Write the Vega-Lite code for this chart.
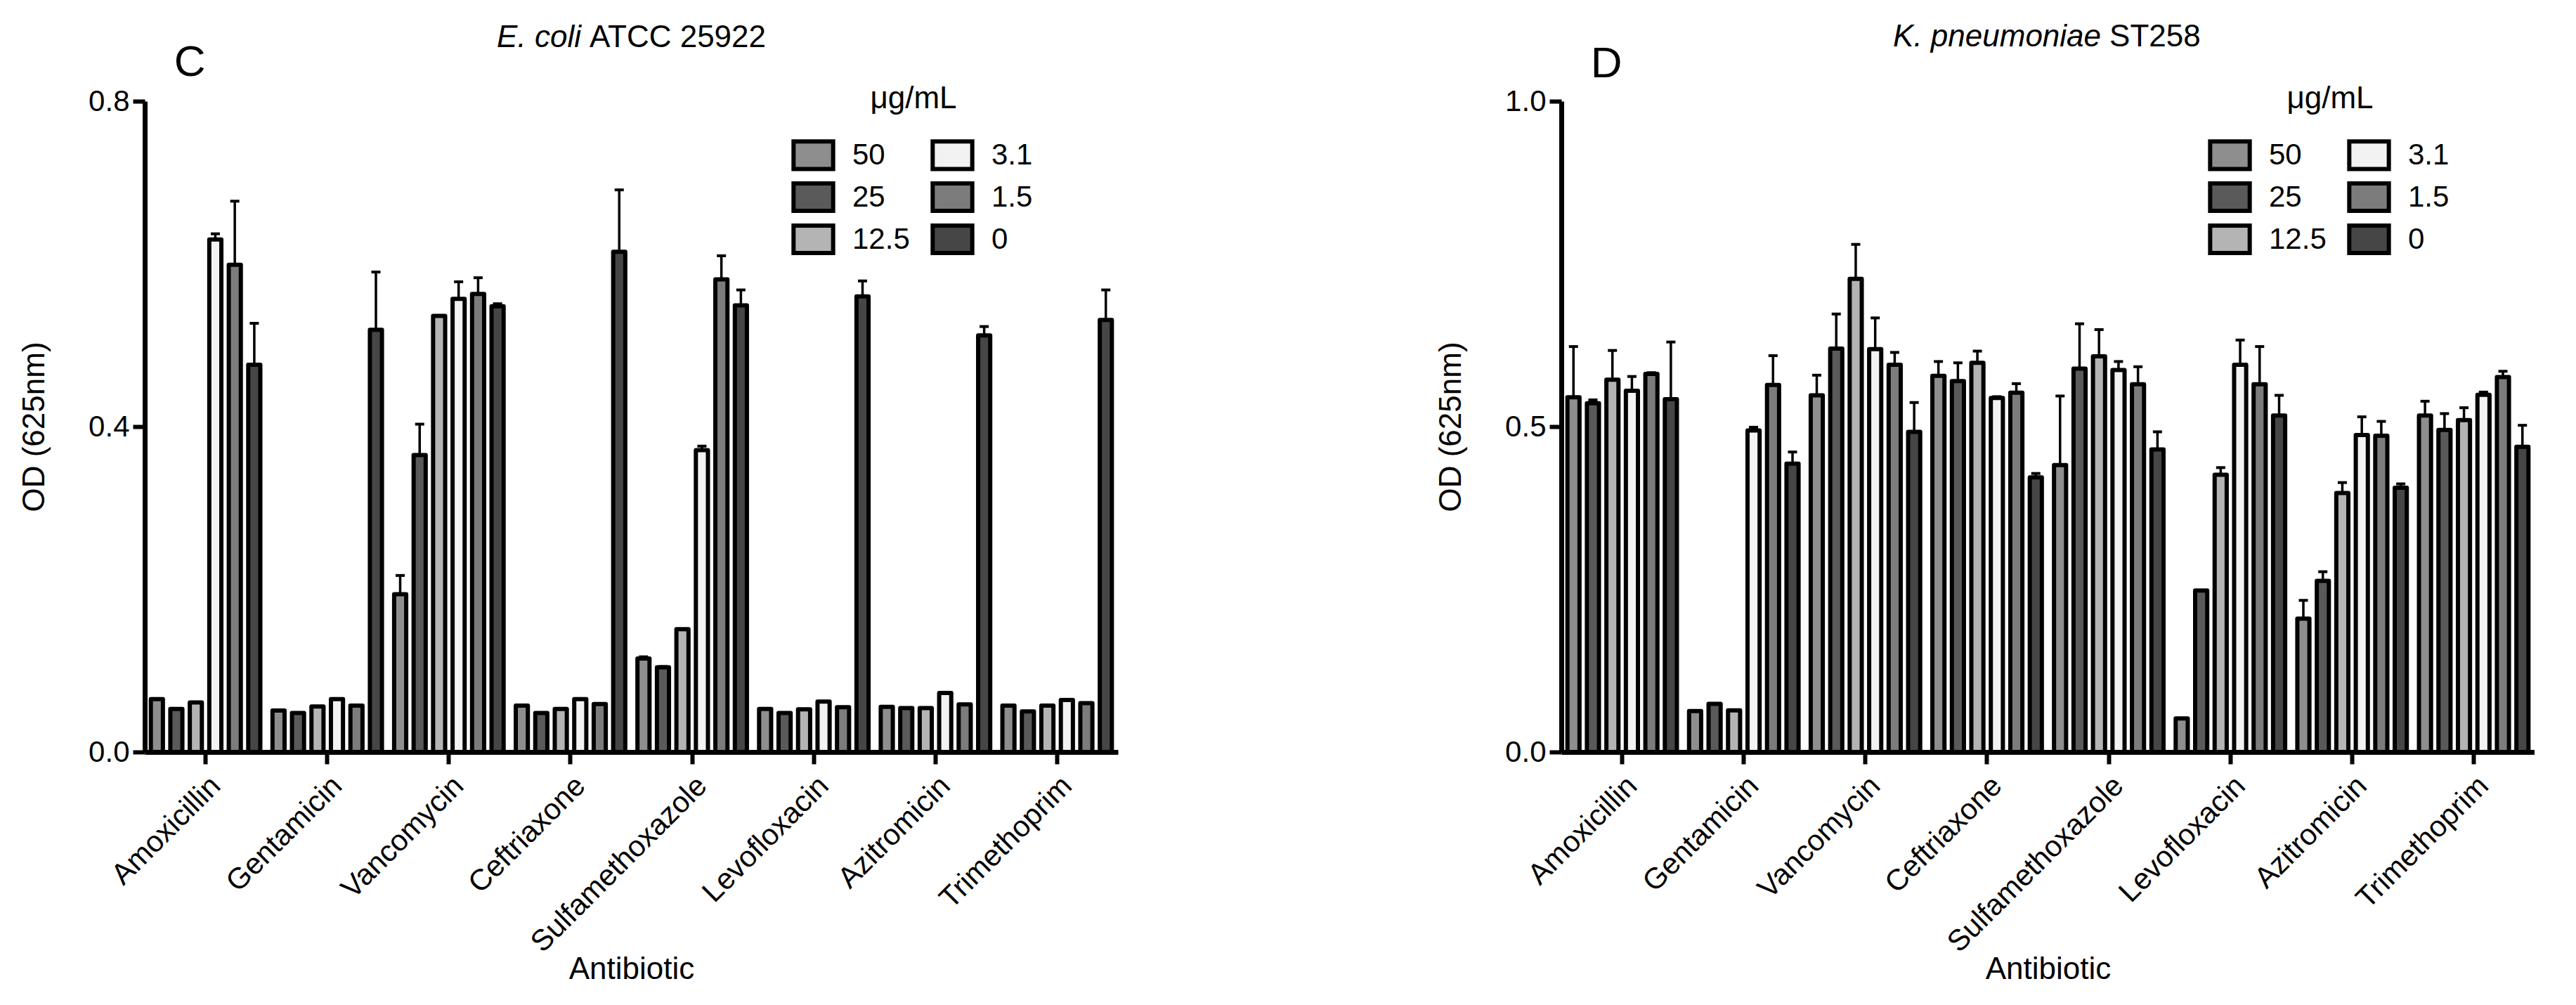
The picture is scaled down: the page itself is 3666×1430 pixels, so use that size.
{
  "$schema": "https://vega.github.io/schema/vega-lite/v6.json",
  "background": "white",
  "padding": {"left": 27, "top": 31, "right": 0, "bottom": 0},
  "config": {
    "font": "Liberation Sans",
    "view": {"stroke": null},
    "axis": {"grid": false, "domainColor": "black", "tickColor": "black", "labelColor": "black", "titleColor": "black", "domainWidth": 7, "tickWidth": 6, "tickSize": 17, "labelFontSize": 42, "titleFontSize": 44, "titleFontWeight": "normal", "labelLimit": 0},
    "axisY": {"labelPadding": 5, "titlePadding": 54},
    "axisX": {"labelAngle": -45, "labelPadding": 10, "titlePadding": 87},
    "legend": {"orient": "none", "legendX": 924, "legendY": -25, "columns": 2, "symbolType": "M-1.15,-0.8L1.15,-0.8L1.15,0.8L-1.15,0.8Z", "symbolSize": 2401, "symbolStrokeColor": "black", "symbolStrokeWidth": 6, "symbolOpacity": 1, "labelFontSize": 42, "labelColor": "black", "labelOffset": 28, "titleFontSize": 44, "titleFontWeight": "normal", "titleColor": "black", "titleAnchor": "middle", "titlePadding": 30, "rowPadding": -8, "columnPadding": 20, "padding": 0}
  },
  "datasets": {
    "ecoli": [
      {"antibiotic": "Amoxicillin", "conc": "50", "od": 0.065, "err": 0.065},
      {"antibiotic": "Amoxicillin", "conc": "25", "od": 0.053, "err": 0.053},
      {"antibiotic": "Amoxicillin", "conc": "12.5", "od": 0.061, "err": 0.061},
      {"antibiotic": "Amoxicillin", "conc": "3.1", "od": 0.630, "err": 0.637},
      {"antibiotic": "Amoxicillin", "conc": "1.5", "od": 0.599, "err": 0.677},
      {"antibiotic": "Amoxicillin", "conc": "0", "od": 0.476, "err": 0.527},
      {"antibiotic": "Gentamicin", "conc": "50", "od": 0.051, "err": 0.051},
      {"antibiotic": "Gentamicin", "conc": "25", "od": 0.048, "err": 0.048},
      {"antibiotic": "Gentamicin", "conc": "12.5", "od": 0.056, "err": 0.056},
      {"antibiotic": "Gentamicin", "conc": "3.1", "od": 0.065, "err": 0.065},
      {"antibiotic": "Gentamicin", "conc": "1.5", "od": 0.057, "err": 0.057},
      {"antibiotic": "Gentamicin", "conc": "0", "od": 0.519, "err": 0.590},
      {"antibiotic": "Vancomycin", "conc": "50", "od": 0.194, "err": 0.217},
      {"antibiotic": "Vancomycin", "conc": "25", "od": 0.365, "err": 0.403},
      {"antibiotic": "Vancomycin", "conc": "12.5", "od": 0.536, "err": 0.536},
      {"antibiotic": "Vancomycin", "conc": "3.1", "od": 0.557, "err": 0.578},
      {"antibiotic": "Vancomycin", "conc": "1.5", "od": 0.563, "err": 0.583},
      {"antibiotic": "Vancomycin", "conc": "0", "od": 0.548, "err": 0.551},
      {"antibiotic": "Ceftriaxone", "conc": "50", "od": 0.057, "err": 0.057},
      {"antibiotic": "Ceftriaxone", "conc": "25", "od": 0.048, "err": 0.048},
      {"antibiotic": "Ceftriaxone", "conc": "12.5", "od": 0.053, "err": 0.053},
      {"antibiotic": "Ceftriaxone", "conc": "3.1", "od": 0.065, "err": 0.065},
      {"antibiotic": "Ceftriaxone", "conc": "1.5", "od": 0.059, "err": 0.059},
      {"antibiotic": "Ceftriaxone", "conc": "0", "od": 0.615, "err": 0.691},
      {"antibiotic": "Sulfamethoxazole", "conc": "50", "od": 0.115, "err": 0.117},
      {"antibiotic": "Sulfamethoxazole", "conc": "25", "od": 0.104, "err": 0.105},
      {"antibiotic": "Sulfamethoxazole", "conc": "12.5", "od": 0.151, "err": 0.151},
      {"antibiotic": "Sulfamethoxazole", "conc": "3.1", "od": 0.371, "err": 0.376},
      {"antibiotic": "Sulfamethoxazole", "conc": "1.5", "od": 0.581, "err": 0.610},
      {"antibiotic": "Sulfamethoxazole", "conc": "0", "od": 0.549, "err": 0.568},
      {"antibiotic": "Levofloxacin", "conc": "50", "od": 0.053, "err": 0.053},
      {"antibiotic": "Levofloxacin", "conc": "25", "od": 0.048, "err": 0.048},
      {"antibiotic": "Levofloxacin", "conc": "12.5", "od": 0.0525, "err": 0.0525},
      {"antibiotic": "Levofloxacin", "conc": "3.1", "od": 0.062, "err": 0.062},
      {"antibiotic": "Levofloxacin", "conc": "1.5", "od": 0.055, "err": 0.055},
      {"antibiotic": "Levofloxacin", "conc": "0", "od": 0.560, "err": 0.579},
      {"antibiotic": "Azitromicin", "conc": "50", "od": 0.0555, "err": 0.0555},
      {"antibiotic": "Azitromicin", "conc": "25", "od": 0.054, "err": 0.054},
      {"antibiotic": "Azitromicin", "conc": "12.5", "od": 0.054, "err": 0.054},
      {"antibiotic": "Azitromicin", "conc": "3.1", "od": 0.0725, "err": 0.0725},
      {"antibiotic": "Azitromicin", "conc": "1.5", "od": 0.0586, "err": 0.0586},
      {"antibiotic": "Azitromicin", "conc": "0", "od": 0.512, "err": 0.523},
      {"antibiotic": "Trimethoprim", "conc": "50", "od": 0.057, "err": 0.057},
      {"antibiotic": "Trimethoprim", "conc": "25", "od": 0.050, "err": 0.050},
      {"antibiotic": "Trimethoprim", "conc": "12.5", "od": 0.057, "err": 0.057},
      {"antibiotic": "Trimethoprim", "conc": "3.1", "od": 0.064, "err": 0.064},
      {"antibiotic": "Trimethoprim", "conc": "1.5", "od": 0.060, "err": 0.060},
      {"antibiotic": "Trimethoprim", "conc": "0", "od": 0.531, "err": 0.568}
    ],
    "kpn": [
      {"antibiotic": "Amoxicillin", "conc": "50", "od": 0.545, "err": 0.623},
      {"antibiotic": "Amoxicillin", "conc": "25", "od": 0.536, "err": 0.541},
      {"antibiotic": "Amoxicillin", "conc": "12.5", "od": 0.572, "err": 0.617},
      {"antibiotic": "Amoxicillin", "conc": "3.1", "od": 0.555, "err": 0.577},
      {"antibiotic": "Amoxicillin", "conc": "1.5", "od": 0.581, "err": 0.583},
      {"antibiotic": "Amoxicillin", "conc": "0", "od": 0.542, "err": 0.630},
      {"antibiotic": "Gentamicin", "conc": "50", "od": 0.063, "err": 0.063},
      {"antibiotic": "Gentamicin", "conc": "25", "od": 0.074, "err": 0.074},
      {"antibiotic": "Gentamicin", "conc": "12.5", "od": 0.064, "err": 0.064},
      {"antibiotic": "Gentamicin", "conc": "3.1", "od": 0.494, "err": 0.499},
      {"antibiotic": "Gentamicin", "conc": "1.5", "od": 0.564, "err": 0.609},
      {"antibiotic": "Gentamicin", "conc": "0", "od": 0.443, "err": 0.461},
      {"antibiotic": "Vancomycin", "conc": "50", "od": 0.548, "err": 0.579},
      {"antibiotic": "Vancomycin", "conc": "25", "od": 0.620, "err": 0.673},
      {"antibiotic": "Vancomycin", "conc": "12.5", "od": 0.727, "err": 0.780},
      {"antibiotic": "Vancomycin", "conc": "3.1", "od": 0.619, "err": 0.667},
      {"antibiotic": "Vancomycin", "conc": "1.5", "od": 0.595, "err": 0.614},
      {"antibiotic": "Vancomycin", "conc": "0", "od": 0.492, "err": 0.537},
      {"antibiotic": "Ceftriaxone", "conc": "50", "od": 0.578, "err": 0.600},
      {"antibiotic": "Ceftriaxone", "conc": "25", "od": 0.570, "err": 0.598},
      {"antibiotic": "Ceftriaxone", "conc": "12.5", "od": 0.598, "err": 0.616},
      {"antibiotic": "Ceftriaxone", "conc": "3.1", "od": 0.544, "err": 0.546},
      {"antibiotic": "Ceftriaxone", "conc": "1.5", "od": 0.552, "err": 0.566},
      {"antibiotic": "Ceftriaxone", "conc": "0", "od": 0.422, "err": 0.428},
      {"antibiotic": "Sulfamethoxazole", "conc": "50", "od": 0.441, "err": 0.547},
      {"antibiotic": "Sulfamethoxazole", "conc": "25", "od": 0.589, "err": 0.658},
      {"antibiotic": "Sulfamethoxazole", "conc": "12.5", "od": 0.608, "err": 0.649},
      {"antibiotic": "Sulfamethoxazole", "conc": "3.1", "od": 0.587, "err": 0.600},
      {"antibiotic": "Sulfamethoxazole", "conc": "1.5", "od": 0.565, "err": 0.592},
      {"antibiotic": "Sulfamethoxazole", "conc": "0", "od": 0.465, "err": 0.492},
      {"antibiotic": "Levofloxacin", "conc": "50", "od": 0.0515, "err": 0.0515},
      {"antibiotic": "Levofloxacin", "conc": "25", "od": 0.248, "err": 0.248},
      {"antibiotic": "Levofloxacin", "conc": "12.5", "od": 0.426, "err": 0.437},
      {"antibiotic": "Levofloxacin", "conc": "3.1", "od": 0.595, "err": 0.633},
      {"antibiotic": "Levofloxacin", "conc": "1.5", "od": 0.565, "err": 0.623},
      {"antibiotic": "Levofloxacin", "conc": "0", "od": 0.517, "err": 0.548},
      {"antibiotic": "Azitromicin", "conc": "50", "od": 0.205, "err": 0.233},
      {"antibiotic": "Azitromicin", "conc": "25", "od": 0.263, "err": 0.277},
      {"antibiotic": "Azitromicin", "conc": "12.5", "od": 0.398, "err": 0.414},
      {"antibiotic": "Azitromicin", "conc": "3.1", "od": 0.487, "err": 0.515},
      {"antibiotic": "Azitromicin", "conc": "1.5", "od": 0.486, "err": 0.508},
      {"antibiotic": "Azitromicin", "conc": "0", "od": 0.406, "err": 0.412},
      {"antibiotic": "Trimethoprim", "conc": "50", "od": 0.517, "err": 0.539},
      {"antibiotic": "Trimethoprim", "conc": "25", "od": 0.495, "err": 0.520},
      {"antibiotic": "Trimethoprim", "conc": "12.5", "od": 0.510, "err": 0.529},
      {"antibiotic": "Trimethoprim", "conc": "3.1", "od": 0.549, "err": 0.553},
      {"antibiotic": "Trimethoprim", "conc": "1.5", "od": 0.576, "err": 0.585},
      {"antibiotic": "Trimethoprim", "conc": "0", "od": 0.469, "err": 0.502}
    ]
  },
  "resolve": {"scale": {"fill": "independent"}, "legend": {"fill": "independent"}},
  "spacing": 452,
  "hconcat": [
    {
      "width": 1385,
      "height": 926,
      "layer": [
        {
          "data": {"name": "ecoli"},
          "mark": {"type": "bar", "stroke": "black", "strokeWidth": 6, "strokeJoin": "round"},
          "encoding": {
            "x": {"field": "antibiotic", "type": "nominal", "sort": ["Amoxicillin", "Gentamicin", "Vancomycin", "Ceftriaxone", "Sulfamethoxazole", "Levofloxacin", "Azitromicin", "Trimethoprim"], "scale": {"paddingInner": 0.1, "paddingOuter": 0.05}, "axis": {"title": "Antibiotic"}},
            "xOffset": {"field": "conc", "type": "nominal", "scale": {"domain": ["50", "25", "12.5", "3.1", "1.5", "0"], "paddingInner": 0.38, "paddingOuter": 0}},
            "y": {"field": "od", "type": "quantitative", "scale": {"domain": [0, 0.8], "nice": false}, "axis": {"title": "OD (625nm)", "values": [0, 0.4, 0.8], "format": ".1f"}},
            "fill": {"field": "conc", "type": "nominal", "title": "μg/mL", "scale": {"domain": ["50", "25", "12.5", "3.1", "1.5", "0"], "range": ["#8e8e8e", "#5a5a5a", "#b4b4b4", "#f2f2f2", "#7c7c7c", "#464646"]}}
          }
        },
        {
          "data": {"name": "ecoli"},
          "mark": {"type": "rule", "color": "black", "strokeWidth": 3.5},
          "encoding": {
            "x": {"field": "antibiotic", "type": "nominal", "sort": ["Amoxicillin", "Gentamicin", "Vancomycin", "Ceftriaxone", "Sulfamethoxazole", "Levofloxacin", "Azitromicin", "Trimethoprim"]},
            "xOffset": {"field": "conc", "type": "nominal", "scale": {"domain": ["50", "25", "12.5", "3.1", "1.5", "0"]}},
            "y": {"field": "od", "type": "quantitative"},
            "y2": {"field": "err"}
          }
        },
        {
          "data": {"name": "ecoli"},
          "mark": {"type": "tick", "color": "black", "size": 13, "thickness": 4, "opacity": 1},
          "encoding": {
            "x": {"field": "antibiotic", "type": "nominal", "sort": ["Amoxicillin", "Gentamicin", "Vancomycin", "Ceftriaxone", "Sulfamethoxazole", "Levofloxacin", "Azitromicin", "Trimethoprim"]},
            "xOffset": {"field": "conc", "type": "nominal", "scale": {"domain": ["50", "25", "12.5", "3.1", "1.5", "0"]}},
            "y": {"field": "err", "type": "quantitative"}
          }
        },
        {
          "mark": {"type": "rule", "color": "black", "strokeWidth": 4, "strokeDash": [18, 9]},
          "encoding": {"y": {"datum": 0.068}}
        },
        {
          "data": {"values": [{"antibiotic": "Amoxicillin", "label": "C"}]},
          "mark": {"type": "text", "fontSize": 62, "align": "right", "baseline": "alphabetic", "color": "black"},
          "encoding": {
            "x": {"field": "antibiotic", "type": "nominal", "sort": ["Amoxicillin", "Gentamicin", "Vancomycin", "Ceftriaxone", "Sulfamethoxazole", "Levofloxacin", "Azitromicin", "Trimethoprim"]},
            "y": {"datum": 0.831},
            "text": {"field": "label"}
          }
        },
        {
          "data": {"values": [{"antibiotic": "Ceftriaxone", "label": "E. coli"}]},
          "mark": {"type": "text", "fontSize": 44, "fontStyle": "italic", "align": "right", "baseline": "alphabetic", "dx": 15, "color": "black"},
          "encoding": {
            "x": {"field": "antibiotic", "type": "nominal", "sort": ["Amoxicillin", "Gentamicin", "Vancomycin", "Ceftriaxone", "Sulfamethoxazole", "Levofloxacin", "Azitromicin", "Trimethoprim"]},
            "y": {"datum": 0.8665},
            "text": {"field": "label"}
          }
        },
        {
          "data": {"values": [{"antibiotic": "Ceftriaxone", "label": "ATCC 25922"}]},
          "mark": {"type": "text", "fontSize": 44, "align": "left", "baseline": "alphabetic", "dx": 27, "color": "black"},
          "encoding": {
            "x": {"field": "antibiotic", "type": "nominal", "sort": ["Amoxicillin", "Gentamicin", "Vancomycin", "Ceftriaxone", "Sulfamethoxazole", "Levofloxacin", "Azitromicin", "Trimethoprim"]},
            "y": {"datum": 0.8665},
            "text": {"field": "label"}
          }
        }
      ]
    },
    {
      "width": 1385,
      "height": 926,
      "layer": [
        {
          "data": {"name": "kpn"},
          "mark": {"type": "bar", "stroke": "black", "strokeWidth": 6, "strokeJoin": "round"},
          "encoding": {
            "x": {"field": "antibiotic", "type": "nominal", "sort": ["Amoxicillin", "Gentamicin", "Vancomycin", "Ceftriaxone", "Sulfamethoxazole", "Levofloxacin", "Azitromicin", "Trimethoprim"], "scale": {"paddingInner": 0.1, "paddingOuter": 0.05}, "axis": {"title": "Antibiotic"}},
            "xOffset": {"field": "conc", "type": "nominal", "scale": {"domain": ["50", "25", "12.5", "3.1", "1.5", "0"], "paddingInner": 0.38, "paddingOuter": 0}},
            "y": {"field": "od", "type": "quantitative", "scale": {"domain": [0, 1], "nice": false}, "axis": {"title": "OD (625nm)", "values": [0, 0.5, 1], "format": ".1f"}},
            "fill": {"field": "conc", "type": "nominal", "title": "μg/mL", "scale": {"domain": ["50", "25", "12.5", "3.1", "1.5", "0"], "range": ["#8e8e8e", "#5a5a5a", "#b4b4b4", "#f2f2f2", "#7c7c7c", "#464646"]}}
          }
        },
        {
          "data": {"name": "kpn"},
          "mark": {"type": "rule", "color": "black", "strokeWidth": 3.5},
          "encoding": {
            "x": {"field": "antibiotic", "type": "nominal", "sort": ["Amoxicillin", "Gentamicin", "Vancomycin", "Ceftriaxone", "Sulfamethoxazole", "Levofloxacin", "Azitromicin", "Trimethoprim"]},
            "xOffset": {"field": "conc", "type": "nominal", "scale": {"domain": ["50", "25", "12.5", "3.1", "1.5", "0"]}},
            "y": {"field": "od", "type": "quantitative"},
            "y2": {"field": "err"}
          }
        },
        {
          "data": {"name": "kpn"},
          "mark": {"type": "tick", "color": "black", "size": 13, "thickness": 4, "opacity": 1},
          "encoding": {
            "x": {"field": "antibiotic", "type": "nominal", "sort": ["Amoxicillin", "Gentamicin", "Vancomycin", "Ceftriaxone", "Sulfamethoxazole", "Levofloxacin", "Azitromicin", "Trimethoprim"]},
            "xOffset": {"field": "conc", "type": "nominal", "scale": {"domain": ["50", "25", "12.5", "3.1", "1.5", "0"]}},
            "y": {"field": "err", "type": "quantitative"}
          }
        },
        {
          "mark": {"type": "rule", "color": "black", "strokeWidth": 4, "strokeDash": [18, 9]},
          "encoding": {"y": {"datum": 0.0735}}
        },
        {
          "data": {"values": [{"antibiotic": "Amoxicillin", "label": "D"}]},
          "mark": {"type": "text", "fontSize": 62, "align": "right", "baseline": "alphabetic", "color": "black"},
          "encoding": {
            "x": {"field": "antibiotic", "type": "nominal", "sort": ["Amoxicillin", "Gentamicin", "Vancomycin", "Ceftriaxone", "Sulfamethoxazole", "Levofloxacin", "Azitromicin", "Trimethoprim"]},
            "y": {"datum": 1.037},
            "text": {"field": "label"}
          }
        },
        {
          "data": {"values": [{"antibiotic": "Sulfamethoxazole", "label": "K. pneumoniae"}]},
          "mark": {"type": "text", "fontSize": 44, "fontStyle": "italic", "align": "right", "baseline": "alphabetic", "dx": -11, "color": "black"},
          "encoding": {
            "x": {"field": "antibiotic", "type": "nominal", "sort": ["Amoxicillin", "Gentamicin", "Vancomycin", "Ceftriaxone", "Sulfamethoxazole", "Levofloxacin", "Azitromicin", "Trimethoprim"]},
            "y": {"datum": 1.084},
            "text": {"field": "label"}
          }
        },
        {
          "data": {"values": [{"antibiotic": "Sulfamethoxazole", "label": "ST258"}]},
          "mark": {"type": "text", "fontSize": 44, "align": "left", "baseline": "alphabetic", "dx": 1, "color": "black"},
          "encoding": {
            "x": {"field": "antibiotic", "type": "nominal", "sort": ["Amoxicillin", "Gentamicin", "Vancomycin", "Ceftriaxone", "Sulfamethoxazole", "Levofloxacin", "Azitromicin", "Trimethoprim"]},
            "y": {"datum": 1.084},
            "text": {"field": "label"}
          }
        }
      ]
    }
  ]
}
